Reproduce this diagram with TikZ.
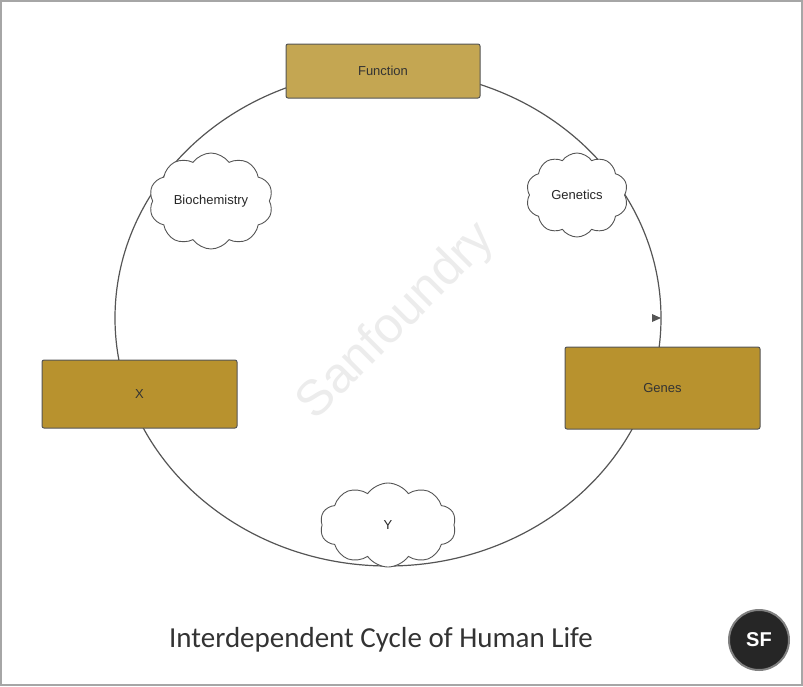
\documentclass[tikz,border=0pt]{standalone}
\usepackage{fontspec}
\setmainfont{Liberation Sans}
\newfontfamily\titlefont{Carlito}
\usetikzlibrary{shapes.symbols}
\definecolor{gold}{HTML}{B8922E}
\definecolor{lgold}{HTML}{C4A652}
\definecolor{edge}{HTML}{555555}
\begin{document}
\begin{tikzpicture}[x=1pt,y=-1pt,
  box/.style={draw=edge,line width=1pt,rounded corners=2pt,inner sep=0pt,font=\fontsize{13}{15}\selectfont,text=black!80},
  cloudy/.style={cloud,cloud puffs=10,cloud puff arc=110,aspect=1.3,draw=edge,line width=0.9pt,fill=white,font=\fontsize{13}{15}\selectfont,text=black!85,inner sep=0pt}]
\useasboundingbox (0,0) rectangle (803,686);
\draw[gray!70,line width=1.5pt] (1,1) rectangle (802,685);
\node[rotate=45,text=gray!15,font=\fontsize{50}{50}\selectfont] (wm) at (397,322) {Sanfoundry};
\draw[edge,line width=1.2pt] (388,318) ellipse[x radius=273,y radius=248];
\coordinate (arr) at (661,318);
\fill[edge] (arr) -- ++(-9,-4) -- ++(0,8) -- cycle;
\node[box,fill=lgold,minimum width=194pt,minimum height=54pt] (fn) at (383,71) {Function};
\node[box,fill=gold,minimum width=195pt,minimum height=68pt] (x) at (139.5,394) {X};
\node[box,fill=gold,minimum width=195pt,minimum height=82pt] (genes) at (662.5,388) {Genes};
\node[cloudy,minimum width=124pt,minimum height=96pt] (bio) at (211,201) {Biochemistry};
\node[cloudy,minimum width=102pt,minimum height=84pt] (gen) at (577,195) {Genetics};
\node[cloudy,minimum width=136pt,minimum height=84pt] (y) at (388,525) {Y};
\node[font=\titlefont\fontsize{29}{32}\selectfont,text=black!80] (title) at (381,640) {Interdependent Cycle of Human Life};
\node[circle,fill=black!85,draw=gray,line width=2pt,minimum size=60pt,inner sep=0pt,text=white,font=\bfseries\fontsize{20}{20}\selectfont] (sf) at (759,640) {SF};
\end{tikzpicture}
\end{document}
